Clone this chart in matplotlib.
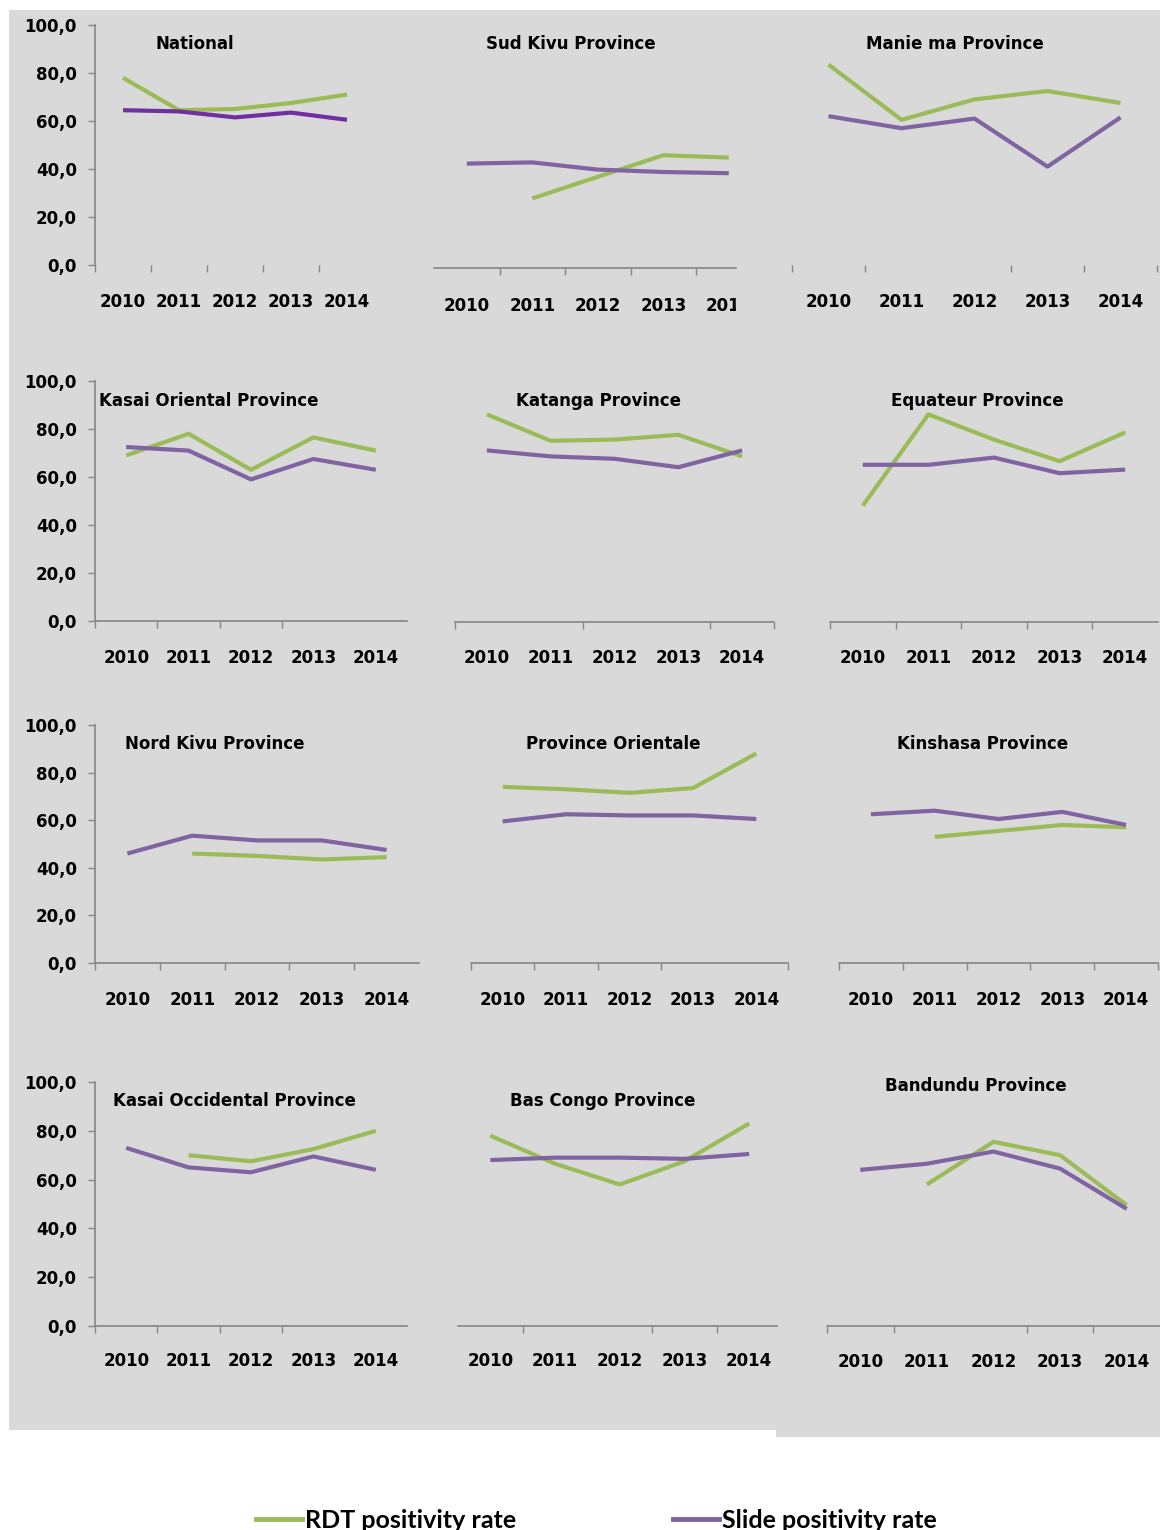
import numpy as np
import matplotlib
matplotlib.use("Agg")
import matplotlib.pyplot as plt
from matplotlib import transforms as mtransforms
from matplotlib.lines import Line2D
from matplotlib.patches import Rectangle
from matplotlib.ticker import FuncFormatter

nan = np.nan

# ---------------------------------------------------------------- data
years = ["2010", "2011", "2012", "2013", "2014"]
y_ticks = [0, 20, 40, 60, 80, 100]

nat_rdt = [78.0, 64.5, 65.0, 67.5, 71.0]
nat_slide = [64.5, 64.0, 61.5, 63.5, 60.5]

sk_rdt = [nan, 29.0, 38.0, 47.0, 46.0]
sk_slide = [43.5, 44.0, 41.0, 40.0, 39.5]

man_rdt = [83.5, 60.5, 69.0, 72.5, 67.5]
man_slide = [62.0, 57.0, 61.0, 41.0, 61.5]

kor_rdt = [69.0, 78.0, 63.0, 76.5, 71.0]
kor_slide = [72.5, 71.0, 59.0, 67.5, 63.0]

kat_rdt = [86.5, 75.5, 76.0, 78.0, 69.0]
kat_slide = [71.5, 69.0, 68.0, 64.5, 71.5]

equ_rdt = [48.5, 86.5, 76.0, 67.0, 79.0]
equ_slide = [65.5, 65.5, 68.5, 62.0, 63.5]

nk_rdt = [nan, 46.0, 45.0, 43.5, 44.5]
nk_slide = [46.0, 53.5, 51.5, 51.5, 47.5]

po_rdt = [74.0, 73.0, 71.5, 73.5, 88.0]
po_slide = [59.5, 62.5, 62.0, 62.0, 60.5]

kin_rdt = [nan, 53.0, 55.5, 58.0, 57.0]
kin_slide = [62.5, 64.0, 60.5, 63.5, 58.0]

koc_rdt = [nan, 70.0, 67.5, 72.5, 80.0]
koc_slide = [73.0, 65.0, 63.0, 69.5, 64.0]

bc_rdt = [78.0, 66.5, 58.0, 67.5, 83.0]
bc_slide = [68.0, 69.0, 69.0, 68.5, 70.5]

ban_rdt = [nan, 58.0, 75.5, 70.0, 49.5]
ban_slide = [64.0, 66.5, 71.5, 64.5, 48.0]

legend_labels = ["RDT positivity rate", "Slide positivity rate"]

# ---------------------------------------------------------------- style
GREEN = "#9BBB59"
PURPLE = "#8064A2"
PURPLE_NAT = "#7030A0"
AXIS_GREY = "#868686"
BG = "#D9D9D9"

W, H = 1160, 1530
plt.rcParams["font.family"] = ["DejaVu Sans"]
plt.rcParams["font.weight"] = "bold"

fig = plt.figure(figsize=(W / 100, H / 100), dpi=100)
fig.patch.set_facecolor("white")


def fx(px):
    return px / W


def fy(py):
    return 1 - py / H


# grey backdrop behind the panel grid
fig.patches.append(Rectangle((fx(9), fy(1430)), fx(W - 9), (1430 - 10) / H,
                             transform=fig.transFigure, facecolor=BG,
                             edgecolor="none", zorder=-2))
fig.patches.append(Rectangle((fx(776), fy(1437)), fx(W - 776), 7 / H,
                             transform=fig.transFigure, facecolor=BG,
                             edgecolor="none", zorder=-2))

# panel layout: box = (left px, right px, y of 0, y of 100)
panels = [
    dict(title="National", rdt=nat_rdt, slide=nat_slide, slide_color=PURPLE_NAT,
         box=(95, 375, 265, 25), xmax=4.5, ticks=[-0.5, 0.5, 1.5, 2.5, 3.5],
         yaxis=True, xline=False, title_xy=(195, 44), label_y=302),
    dict(title="Sud Kivu Province", rdt=sk_rdt, slide=sk_slide,
         box=(434, 736, 268, 28), xmax=4.11, ticks=[0.5, 1.5, 2.5, 3.5],
         yaxis=False, xline=True, title_xy=(571, 44), label_y=306, clip_right=736),
    dict(title="Manie ma Province", rdt=man_rdt, slide=man_slide,
         box=(792, 1157, 265, 25), xmax=4.5, ticks=[-0.5, 0.5, 2.5, 3.5, 4.5],
         yaxis=False, xline=False, title_xy=(955, 44), label_y=302),
    dict(title="Kasai Oriental Province", rdt=kor_rdt, slide=kor_slide,
         box=(95, 407, 621, 381), xmax=4.5, ticks=[-0.5, 0.5, 1.5, 2.5],
         yaxis=True, xline=True, title_xy=(209, 401), label_y=658),
    dict(title="Katanga Province", rdt=kat_rdt, slide=kat_slide,
         box=(455, 774, 622, 382), xmax=4.5, ticks=[-0.5, 1.5, 3.5, 4.5],
         yaxis=False, xline=True, title_xy=(598, 401), label_y=658),
    dict(title="Equateur Province", rdt=equ_rdt, slide=equ_slide,
         box=(830, 1158, 622, 382), xmax=4.5, ticks=[-0.5, 0.5, 1.5, 2.5, 3.5],
         yaxis=False, xline=True, title_xy=(977, 401), label_y=658),
    dict(title="Nord Kivu Province", rdt=nk_rdt, slide=nk_slide,
         box=(95, 419, 963, 725), xmax=4.5, ticks=[-0.5, 0.5, 1.5, 2.5, 3.5],
         yaxis=True, xline=True, title_xy=(215, 744), label_y=1000),
    dict(title="Province Orientale", rdt=po_rdt, slide=po_slide,
         box=(471, 788, 963, 725), xmax=4.5, ticks=[-0.5, 0.5, 1.5, 2.5, 4.5],
         yaxis=False, xline=True, title_xy=(613, 744), label_y=1000),
    dict(title="Kinshasa Province", rdt=kin_rdt, slide=kin_slide,
         box=(839, 1158, 963, 725), xmax=4.5, ticks=[-0.5, 0.5, 1.5, 2.5, 3.5, 4.5],
         yaxis=False, xline=True, title_xy=(983, 744), label_y=1000),
    dict(title="Kasai Occidental Province", rdt=koc_rdt, slide=koc_slide,
         box=(95, 407, 1326, 1082), xmax=4.5, ticks=[-0.5, 0.5, 1.5, 2.5],
         yaxis=True, xline=True, title_xy=(234, 1101), label_y=1361),
    dict(title="Bas Congo Province", rdt=bc_rdt, slide=bc_slide,
         box=(458, 777, 1326, 1082), xmax=4.43, ticks=[0.5, 2.5, 3.5],
         yaxis=False, xline=True, title_xy=(603, 1101), label_y=1361),
    dict(title="Bandundu Province", rdt=ban_rdt, slide=ban_slide,
         box=(827, 1160, 1326, 1082), xmax=4.5, ticks=[-0.5, 0.5, 2.5, 3.5],
         yaxis=False, xline=True, title_xy=(976, 1086), label_y=1362),
]

comma_fmt = FuncFormatter(lambda v, _: f"{v:.1f}".replace(".", ","))


def draw_panel(p):
    x0, x1, y0, y100 = p["box"]
    ax = fig.add_axes([fx(x0), fy(y0), (x1 - x0) / W, (y0 - y100) / H])
    ax.set_facecolor("none")
    ax.set_xlim(-0.5, p["xmax"])
    ax.set_ylim(0, 100)

    idx = np.arange(len(years))
    ax.plot(idx, p["rdt"], color=GREEN, lw=3, solid_joinstyle="round",
            solid_capstyle="butt", clip_on=False)
    ax.plot(idx, p["slide"], color=p.get("slide_color", PURPLE), lw=3,
            solid_joinstyle="round", solid_capstyle="butt", clip_on=False)

    for side in ("top", "right"):
        ax.spines[side].set_visible(False)
    ax.spines["left"].set_visible(p["yaxis"])
    ax.spines["bottom"].set_visible(p["xline"])
    for side in ("left", "bottom"):
        ax.spines[side].set_color(AXIS_GREY)
        ax.spines[side].set_linewidth(1.2)

    ax.set_xticks(p["ticks"])
    ax.tick_params(axis="x", length=5, width=1, color=AXIS_GREY,
                   direction="out", labelbottom=False)
    if p["yaxis"]:
        ax.set_yticks(y_ticks)
        ax.yaxis.set_major_formatter(comma_fmt)
        ax.tick_params(axis="y", length=5, width=1, color=AXIS_GREY,
                       direction="out", pad=8, labelsize=12)
    else:
        ax.set_yticks([])

    tr = mtransforms.blended_transform_factory(ax.transData, fig.transFigure)
    clip_right = p.get("clip_right")
    for i, lab in enumerate(years):
        t = ax.text(i, fy(p["label_y"]), lab, transform=tr, ha="center",
                    va="center", fontsize=12, fontweight="bold", clip_on=False)
        if clip_right is not None:
            t.set_clip_on(True)
            t.set_clip_box(mtransforms.TransformedBbox(
                mtransforms.Bbox.from_extents(0, 0, fx(clip_right), 1),
                fig.transFigure))

    tx, ty = p["title_xy"]
    fig.text(fx(tx), fy(ty), p["title"], ha="center", va="center",
             fontsize=12, fontweight="bold")


for p in panels:
    draw_panel(p)

# legend row at the foot of the figure
legend_font = dict(family=["Lato", "DejaVu Sans"], weight="bold", size=18)
for color, label, x_left in ((GREEN, legend_labels[0], 256),
                             (PURPLE, legend_labels[1], 673)):
    handle = Line2D([], [], color=color, lw=3.5)
    fig.legend([handle], [label], loc="center left",
               bbox_to_anchor=(fx(x_left), fy(1520)), frameon=False,
               borderpad=0, borderaxespad=0, handlelength=1.85,
               handletextpad=0.12, prop=legend_font)

fig.savefig("out.png", dpi=100, facecolor=fig.get_facecolor())
